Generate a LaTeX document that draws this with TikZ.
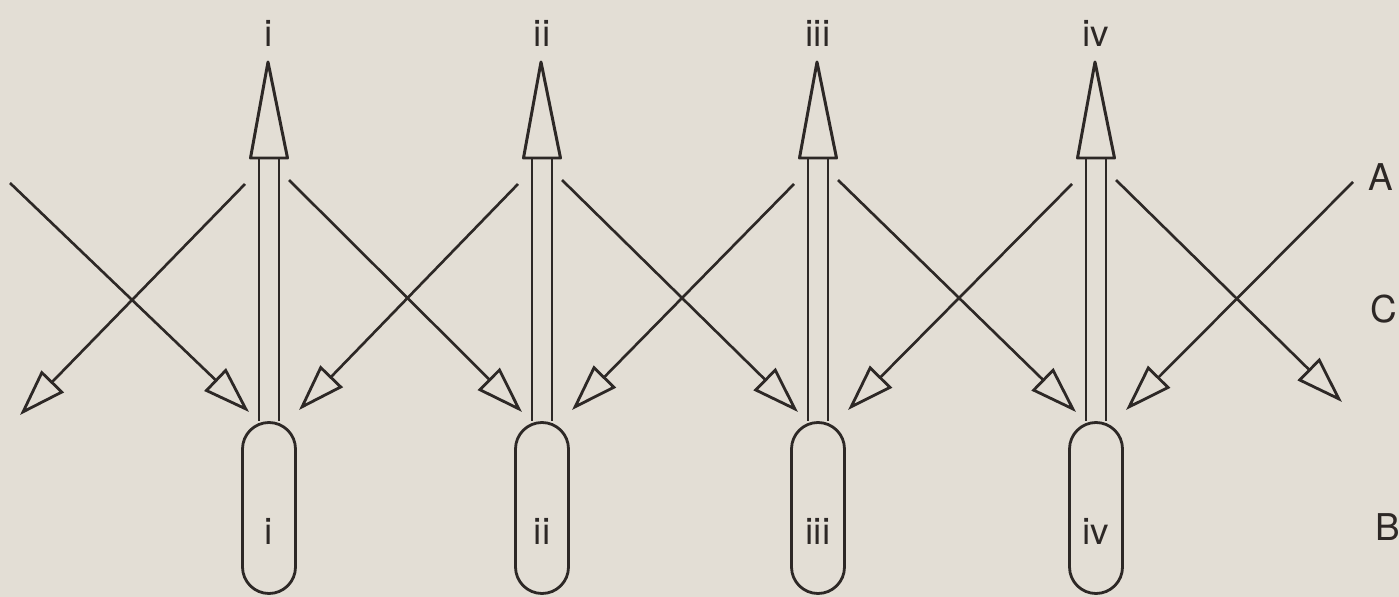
\documentclass[tikz,border=0pt]{standalone}
\usepackage{fontspec}
\setmainfont{TeX Gyre Heros}
\usetikzlibrary{arrows.meta}
\definecolor{paper}{RGB}{227,222,213}
\definecolor{ink}{RGB}{45,40,38}
\begin{document}
\begin{tikzpicture}[x=0.2mm,y=-0.2mm,
  inkline/.style={draw=ink,line width=1.5pt},
  capsule/.style={inkline,line width=1.6pt,rounded corners=5.3mm,minimum width=10.6mm,minimum height=34.2mm,inner sep=0pt},
  lbl/.style={font=\fontsize{21}{24}\selectfont,text=ink,inner sep=0pt},
  ray/.style={inkline,-{Triangle[open,length=9.4mm,width=6.2mm,line width=1.6pt]}}]
\useasboundingbox[fill=paper] (0,0) rectangle (1399,597);
% the four units
\foreach \c/\n/\t in {269/1/i,542/2/ii,818/3/iii,1096/4/iv}{
  \node[lbl] (top\n) at (\c,33) {\t};
  \node[capsule] (cap\n) at (\c,508) {};
  \node[lbl] (name\n) at (\c,531) {\t};
  \coordinate (tip\n) at (\c-1,62);
  \coordinate (base\n) at (\c,158);
  \draw[inkline,line width=1.7pt,line join=round] ([xshift=-3.7mm]base\n) -- (tip\n) -- ([xshift=3.7mm]base\n) -- cycle;
  \draw[inkline] ([xshift=-2mm]base\n) -- ([xshift=-2mm]cap\n.north);
  \draw[inkline] ([xshift=2mm]base\n) -- ([xshift=2mm]cap\n.north);
  \coordinate (tl\n) at (\c-24,184);
  \coordinate (tr\n) at (\c+20,180);
  \coordinate (bl\n) at (\c-20,412);
  \coordinate (br\n) at (\c+30,410);
}
% crossing rays
\foreach \a/\b in {1/2,2/3,3/4}{
  \draw[ray] (tr\a) -- (bl\b);
  \draw[ray] (tl\b) -- (br\a);
}
\coordinate (west in) at (10,183);
\coordinate (west out) at (20,415);
\coordinate (east in) at (1353,182);
\coordinate (east out) at (1342,402);
\draw[ray] (west in) -- (bl1);
\draw[ray] (tl1) -- (west out);
\draw[ray] (east in) -- (br4);
\draw[ray] (tr4) -- (east out);
\node[lbl] (A) at (1381,177) {A};
\node[lbl] (C) at (1384,309) {C};
\node[lbl] (B) at (1388,527) {B};
\end{tikzpicture}
\end{document}
